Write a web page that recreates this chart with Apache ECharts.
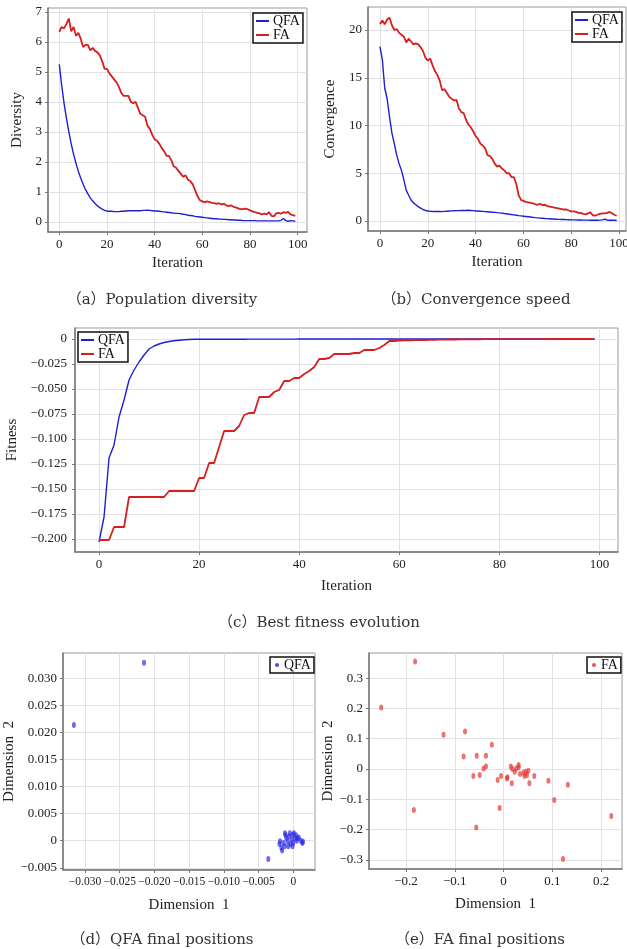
<!DOCTYPE html>
<html lang="en">
<head>
    <meta charset="UTF-8">
    <title>QFA vs FA</title>
    <script src="https://cdn.jsdelivr.net/npm/echarts@6/dist/echarts.min.js"></script>
    <style>
        body { margin: 0; background: #fff; }
        #main { width: 627px; height: 949px; }
    </style>
</head>
<body>
<div id="main"></div>
<script type="text/javascript">
    // (a) population diversity, iterations 0..99
    const qfaDiv = [5.25,4.55,3.95,3.45,3.0,2.6,2.25,1.95,1.68,1.45,
        1.25,1.07,0.93,0.8,0.7,0.61,0.53,0.47,0.42,0.38,
        0.36,0.35,0.35,0.34,0.34,0.34,0.35,0.35,0.36,0.37,
        0.37,0.37,0.37,0.37,0.37,0.38,0.38,0.39,0.38,0.37,
        0.36,0.36,0.35,0.34,0.33,0.32,0.31,0.3,0.29,0.28,
        0.28,0.27,0.25,0.24,0.22,0.21,0.2,0.18,0.17,0.16,
        0.15,0.14,0.13,0.12,0.11,0.1,0.1,0.09,0.09,0.08,
        0.08,0.07,0.07,0.06,0.06,0.05,0.05,0.04,0.04,0.04,
        0.04,0.04,0.04,0.03,0.03,0.03,0.03,0.03,0.03,0.03,
        0.03,0.03,0.03,0.05,0.11,0.04,0.02,0.04,0.03,0.02];
    const faDiv = [6.33,6.5,6.45,6.6,6.78,6.35,6.5,6.2,6.3,6.1,
        5.83,5.9,5.9,5.72,5.8,5.7,5.65,5.55,5.35,5.1,
        5.1,4.95,4.85,4.75,4.65,4.5,4.3,4.2,4.2,4.2,
        4.0,3.95,4.0,3.8,3.6,3.55,3.5,3.2,3.1,2.9,
        2.75,2.7,2.6,2.45,2.35,2.2,2.2,2.05,1.85,1.8,
        1.7,1.6,1.5,1.55,1.4,1.35,1.25,1.05,0.85,0.72,
        0.68,0.65,0.68,0.66,0.63,0.62,0.6,0.62,0.58,0.6,
        0.55,0.52,0.55,0.5,0.48,0.45,0.42,0.42,0.44,0.42,
        0.38,0.35,0.32,0.3,0.28,0.25,0.27,0.25,0.32,0.2,
        0.18,0.28,0.3,0.27,0.32,0.3,0.33,0.25,0.22,0.2];

    // (b) convergence speed
    const qfaConv = [18.25,16.9,13.9,12.8,10.9,9.2,8.1,6.9,6.0,5.3,
        4.3,3.2,2.7,2.2,1.9,1.7,1.5,1.35,1.2,1.1,
        1.05,1.02,1.0,1.0,1.0,0.99,0.98,1.0,1.02,1.04,
        1.06,1.07,1.08,1.08,1.09,1.1,1.1,1.12,1.1,1.08,
        1.05,1.04,1.02,1.0,0.98,0.96,0.94,0.92,0.9,0.87,
        0.85,0.82,0.78,0.75,0.71,0.68,0.64,0.6,0.56,0.53,
        0.5,0.47,0.44,0.41,0.38,0.35,0.33,0.3,0.28,0.26,
        0.25,0.23,0.21,0.2,0.18,0.17,0.16,0.15,0.14,0.13,
        0.12,0.12,0.11,0.1,0.1,0.09,0.09,0.09,0.08,0.08,
        0.08,0.08,0.09,0.12,0.2,0.1,0.08,0.09,0.07,0.05];
    const faConv = [20.6,21.0,20.6,21.1,21.3,20.5,20.0,20.1,19.7,19.5,
        19.3,18.7,19.1,18.8,18.5,18.6,18.5,18.2,17.8,17.1,
        16.8,17.0,16.3,15.7,15.3,14.7,13.7,13.8,13.4,13.0,
        12.8,12.6,12.7,11.8,11.4,11.3,10.6,10.1,9.8,9.4,
        8.9,8.6,8.1,7.9,7.6,6.9,6.8,6.5,6.0,5.7,
        5.8,5.5,5.3,5.0,5.0,4.6,4.6,3.9,2.7,2.2,
        2.1,2.0,1.95,1.9,1.85,1.75,1.7,1.8,1.65,1.7,
        1.55,1.5,1.45,1.4,1.35,1.3,1.25,1.2,1.2,1.1,
        1.0,1.0,0.95,0.85,0.85,0.75,0.7,0.8,0.9,0.6,
        0.55,0.65,0.75,0.8,0.8,0.85,0.95,0.8,0.65,0.55];

    // (c) best fitness
    const qfaFit = [-0.203,-0.178,-0.119,-0.106,-0.078,-0.061,-0.041,-0.031,-0.023,-0.016,
        -0.010,-0.007,-0.005,-0.0035,-0.0025,-0.0018,-0.0012,-0.0008,-0.0005,-0.0003,
        -0.0002,-0.0002,-0.0002,-0.0002,-0.0002,-0.0002,-0.0002,-0.0002,-0.0002,-0.0002,
        -0.0001,-0.0001,-0.0001,-0.0001,-0.0001,-0.0001,-0.0001,-0.0001,-0.0001,-0.0001,
        0,0,0,0,0,0,0,0,0,0,
        0,0,0,0,0,0,0,0,0,0,
        0,0,0,0,0,0,0,0,0,0,
        0,0,0,0,0,0,0,0,0,0,
        0,0,0,0,0,0,0,0,0,0,
        0,0,0,0,0,0,0,0,0,0];
    const faFit = [-0.201,-0.201,-0.201,-0.188,-0.188,-0.188,-0.158,-0.158,-0.158,-0.158,
        -0.158,-0.158,-0.158,-0.158,-0.152,-0.152,-0.152,-0.152,-0.152,-0.152,
        -0.139,-0.139,-0.124,-0.124,-0.108,-0.092,-0.092,-0.092,-0.087,-0.076,
        -0.074,-0.074,-0.058,-0.058,-0.058,-0.053,-0.051,-0.042,-0.042,-0.039,
        -0.039,-0.035,-0.032,-0.028,-0.020,-0.020,-0.019,-0.015,-0.015,-0.015,
        -0.015,-0.014,-0.014,-0.011,-0.011,-0.011,-0.009,-0.006,-0.002,-0.002,
        -0.0015,-0.0014,-0.0013,-0.0012,-0.0011,-0.001,-0.0009,-0.0008,-0.0007,-0.0006,
        -0.0005,-0.0005,-0.0004,-0.0004,-0.0003,-0.0003,-0.0003,-0.0002,-0.0002,-0.0002,
        -0.0001,-0.0001,-0.0001,-0.0001,-0.0001,-0.0001,-0.0001,-0.0001,-0.0001,-0.0001,
        0,0,0,0,0,0,0,0,0,0];

    // (d) QFA final positions
    const qfaDim1 = [-0.0215,-0.0316,-0.0036,-0.0019,-0.002,-0.0017,-0.0014,-0.0012,-0.0011,-0.001,
        -0.0008,-0.0007,-0.0006,-0.0005,-0.0004,-0.0002,-0.0001,0,0.0001,0.0002,
        0.0004,0.0005,0.0006,0.0008,0.0011,0.0013,0.0014,-0.0012,-0.0001,-0.0016];
    const qfaDim2 = [0.0329,0.0214,-0.0034,-0.0001,-0.0006,-0.0013,-0.0004,0.0014,0.001,0.0005,
        -0.0001,-0.001,0.0008,0.0014,-0.0006,0.0002,0.0011,-0.0004,0.0014,0.0005,
        0.001,0,0.0004,0.0006,0,-0.0004,-0.0002,-0.001,-0.001,-0.0018];

    // (e) FA final positions
    const faDim1 = [-0.1815,-0.251,-0.123,-0.079,-0.024,-0.082,-0.055,-0.036,-0.041,-0.036,
        -0.062,-0.049,-0.012,-0.005,0.007,0.008,0.015,0.018,0.023,0.026,
        0.017,0.031,0.031,0.034,0.041,0.043,0.046,0.048,0.051,0.053,
        0.063,0.092,0.104,0.132,0.221,0.122,-0.008,-0.056,-0.184];
    const faDim2 = [0.355,0.203,0.113,0.124,0.080,0.041,0.044,0.044,0.002,0.008,
        -0.023,-0.020,-0.036,-0.023,-0.031,-0.027,0.008,0,-0.009,0.002,
        -0.047,0.013,0.006,-0.016,-0.012,-0.023,-0.009,-0.020,-0.006,-0.047,
        -0.023,-0.039,-0.102,-0.052,-0.155,-0.297,-0.129,-0.193,-0.135];

    const iterTicks = [0, 20, 40, 60, 80, 100];
    const divTicks = [0, 1, 2, 3, 4, 5, 6, 7];
    const convTicks = [0, 5, 10, 15, 20];
    const fitTicks = [0, -0.025, -0.05, -0.075, -0.1, -0.125, -0.15, -0.175, -0.2];
    const qfaXTicks = [-0.03, -0.025, -0.02, -0.015, -0.01, -0.005, 0];
    const qfaYTicks = [-0.005, 0, 0.005, 0.01, 0.015, 0.02, 0.025, 0.03];
    const faXTicks = [-0.2, -0.1, 0, 0.1, 0.2];
    const faYTicks = [-0.3, -0.2, -0.1, 0, 0.1, 0.2, 0.3];

    const BLUE = '#1f1fd2';
    const RED = '#d61f1f';
    const serif = 'Liberation Serif';

    function fmt(digits) {
        return function (v) {
            if (Math.abs(v) < 1e-12) return '0';
            const s = Math.abs(v).toFixed(digits);
            return v < 0 ? '\u2212' + s : s;
        };
    }

    function axis(gridIndex, min, max, ticks, name, gap, formatter, margin, size) {
        return {
            type: 'value',
            gridIndex: gridIndex,
            min: min,
            max: max,
            name: name,
            nameLocation: 'middle',
            nameGap: gap,
            nameTextStyle: { fontFamily: serif, fontSize: 15, color: '#222' },
            axisLine: { show: true, onZero: false, lineStyle: { color: '#777', width: 1.5 } },
            axisTick: { show: true, length: 3, customValues: ticks, lineStyle: { color: '#777' } },
            axisLabel: {
                customValues: ticks, margin: margin || 6,
                showMinLabel: true, showMaxLabel: true, hideOverlap: false,
                fontFamily: serif, fontSize: size || 13, color: '#222',
                formatter: formatter
            },
            splitLine: { show: true, lineStyle: { color: '#e2e2e2', width: 1 } }
        };
    }

    function pairs(xs, ys) {
        return xs.map((x, i) => [x, ys[i]]);
    }

    function byIter(vals) {
        return vals.map((v, i) => [i, v]);
    }

    function lineSeries(name, idx, vals, color, width) {
        return {
            name: name, type: 'line', xAxisIndex: idx, yAxisIndex: idx,
            data: byIter(vals), showSymbol: false, symbol: 'none',
            lineStyle: { color: color, width: width }, itemStyle: { color: color },
            animation: false
        };
    }

    function lineLegend(left, top) {
        return {
            left: left, top: top, orient: 'vertical', itemGap: 0,
            padding: [1, 3, 1, 3], borderColor: '#111', borderWidth: 1.5,
            backgroundColor: '#fff', icon: 'rect', itemWidth: 13, itemHeight: 2,
            textStyle: { fontFamily: serif, fontSize: 14, color: '#111', lineHeight: 14, padding: [0, 0, 0, -1] },
            data: ['QFA', 'FA']
        };
    }

    function dotLegend(name, left, top, color) {
        return {
            left: left, top: top, padding: [1, 3, 1, 5], borderColor: '#111', borderWidth: 1.5,
            backgroundColor: '#fff', itemWidth: 4, itemHeight: 6, itemGap: 0,
            textStyle: { fontFamily: serif, fontSize: 14, color: '#111', lineHeight: 14 },
            data: [{ name: name, icon: 'circle', itemStyle: { color: color } }]
        };
    }

    function caption(text, x, y) {
        return {
            type: 'text', x: x, y: y,
            style: {
                text: text, fill: '#333',
                font: '15px "DejaVu Serif", "Noto Sans CJK SC"',
                textAlign: 'center', textVerticalAlign: 'middle'
            }
        };
    }

    const chart = echarts.init(document.getElementById('main'), null, { renderer: 'canvas' });
    const gridBase = { show: true, borderColor: '#9a9a9a', borderWidth: 1, backgroundColor: '#fff', outerBoundsMode: 'none', containLabel: false };
    const DOT_BLUE = 'rgba(40,40,230,0.85)';
    const DOT_RED = 'rgba(228,50,50,0.85)';

    const option = {
        animation: false,
        backgroundColor: '#fff',
        grid: [
            Object.assign({ left: 48, top: 8, width: 259, height: 224 }, gridBase),
            Object.assign({ left: 368, top: 7, width: 258, height: 224 }, gridBase),
            Object.assign({ left: 75, top: 328, width: 543, height: 224 }, gridBase),
            Object.assign({ left: 63, top: 653, width: 252, height: 217 }, gridBase),
            Object.assign({ left: 369, top: 653, width: 253, height: 216 }, gridBase)
        ],
        xAxis: [
            axis(0, -4.74, 103.9, iterTicks, 'Iteration', 24, fmt(0)),
            axis(1, -5.0, 102.9, iterTicks, 'Iteration', 24, fmt(0)),
            axis(2, -4.8, 103.7, iterTicks, 'Iteration', 27, fmt(0)),
            axis(3, -0.03317, 0.00313, qfaXTicks, 'Dimension  1', 28, fmt(3), 6, 11.5),
            axis(4, -0.276, 0.243, faXTicks, 'Dimension  1', 28, fmt(1))
        ],
        yAxis: [
            axis(0, -0.34, 7.13, divTicks, 'Diversity', 23, fmt(0)),
            axis(1, -1.05, 22.41, convTicks, 'Convergence', 30, fmt(0)),
            axis(2, -0.213, 0.011, fitTicks, 'Fitness', 54, fmt(3), 8),
            axis(3, -0.00541, 0.03468, qfaYTicks, 'Dimension  2', 42, fmt(3)),
            axis(4, -0.330, 0.383, faYTicks, 'Dimension  2', 28, fmt(1))
        ],
        legend: [
            lineLegend(253, 13),
            lineLegend(572, 12),
            lineLegend(78, 332),
            dotLegend('QFA', 270, 657, DOT_BLUE),
            dotLegend('FA', 587, 657, DOT_RED)
        ],
        graphic: [
            caption('（a）Population diversity', 162, 300),
            caption('（b）Convergence speed', 476, 300),
            caption('（c）Best fitness evolution', 319, 623),
            caption('（d）QFA final positions', 162, 940),
            caption('（e）FA final positions', 480, 940)
        ],
        series: [
            lineSeries('QFA', 0, qfaDiv, BLUE, 1.4),
            lineSeries('FA', 0, faDiv, RED, 1.8),
            lineSeries('QFA', 1, qfaConv, BLUE, 1.4),
            lineSeries('FA', 1, faConv, RED, 1.8),
            lineSeries('QFA', 2, qfaFit, BLUE, 1.4),
            lineSeries('FA', 2, faFit, RED, 1.8),
            {
                name: 'QFA', type: 'scatter', xAxisIndex: 3, yAxisIndex: 3,
                data: pairs(qfaDim1, qfaDim2), symbol: 'circle', symbolSize: [4, 6],
                itemStyle: { color: DOT_BLUE }
            },
            {
                name: 'FA', type: 'scatter', xAxisIndex: 4, yAxisIndex: 4,
                data: pairs(faDim1, faDim2), symbol: 'circle', symbolSize: [4, 6],
                itemStyle: { color: DOT_RED }
            }
        ]
    };
    chart.setOption(option);
</script>
</body>
</html>
